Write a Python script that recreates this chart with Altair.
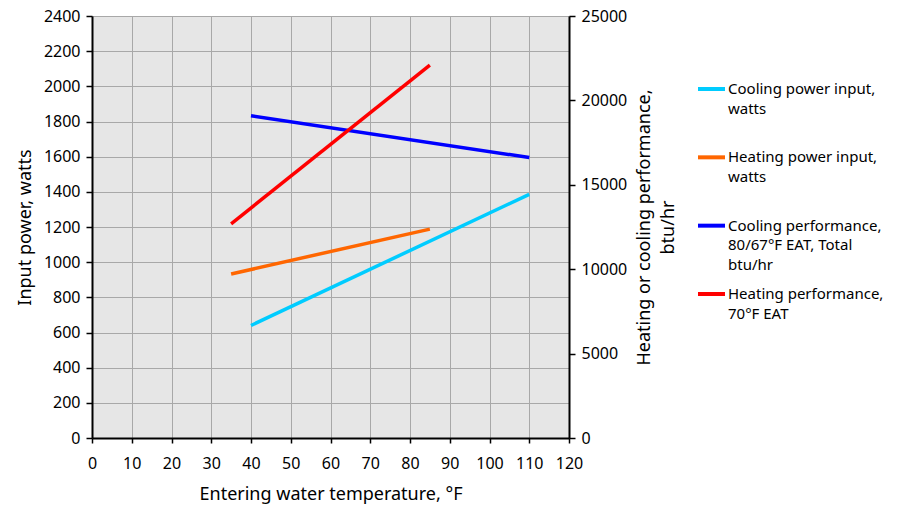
import altair as alt
import pandas as pd

series = ["Cooling power input, watts", "Heating power input, watts",
          "Cooling performance, 80/67°F EAT, Total btu/hr", "Heating performance, 70°F EAT"]
legend_text = ["Cooling power input,|watts",
               "Heating power input,|watts",
               "Cooling performance,|80/67°F EAT, Total|btu/hr",
               "Heating performance,|70°F EAT"]
legend_order = [0, 1, 2, 3]
colors = ["#00CCFF", "#FF6600", "#0000FF", "#FF0000"]

# Entering water temperature (°F)
cool_power_x = [40, 110]
cool_power_y = [640, 1386]       # watts
heat_power_x = [35, 85]
heat_power_y = [933, 1188]       # watts
cool_perf_x = [40, 110]
cool_perf_y = [19090, 16615]     # btu/hr
heat_perf_x = [35, 85]
heat_perf_y = [12690, 22095]     # btu/hr

x_ticks = list(range(0, 121, 10))
left_ticks = list(range(0, 2401, 200))
right_ticks = list(range(0, 25001, 5000))

power = pd.DataFrame({
    "series": [series[0]] * 2 + [series[1]] * 2,
    "x": cool_power_x + heat_power_x,
    "y": cool_power_y + heat_power_y,
})
perf = pd.DataFrame({
    "series": [series[2]] * 2 + [series[3]] * 2,
    "x": cool_perf_x + heat_perf_x,
    "y": cool_perf_y + heat_perf_y,
})
legend_df = pd.DataFrame({"series": series, "text": legend_text, "idx": legend_order})

FONT = "Noto Sans"
FS = 16
TFS = 18
LFS = 15

color = alt.Color("series:N", scale=alt.Scale(domain=series, range=colors), legend=None)

axis_style = dict(labelFont=FONT, labelFontSize=FS, labelColor="black",
                  titleFont=FONT, titleFontSize=TFS, titleFontWeight="normal",
                  titleColor="black", format="d", labelOverlap=False, labelFlush=False)

x_enc = alt.X(
    "x:Q",
    scale=alt.Scale(domain=[0, 120], nice=False),
    axis=alt.Axis(values=x_ticks, title="Entering water temperature, °F",
                  grid=True, tickSize=5, labelPadding=12, titlePadding=14, **axis_style),
)

power_layer = alt.Chart(power).mark_line(strokeWidth=3.5).encode(
    x=x_enc,
    y=alt.Y("y:Q", scale=alt.Scale(domain=[0, 2400], nice=False),
            axis=alt.Axis(values=left_ticks, title="Input power, watts", orient="left",
                          grid=True, tickSize=6, labelPadding=6, titlePadding=9, **axis_style)),
    color=color,
    detail="series:N",
)

perf_layer = alt.Chart(perf).mark_line(strokeWidth=3.5).encode(
    x=x_enc,
    y=alt.Y("y:Q", scale=alt.Scale(domain=[0, 25000], nice=False),
            axis=alt.Axis(values=right_ticks, title=["Heating or cooling performance,", "btu/hr"],
                          orient="right", grid=False, tickSize=6, labelPadding=6,
                          titlePadding=3, titleAngle=270, titleLineHeight=24, **axis_style)),
    color=color,
    detail="series:N",
)

leg_y = alt.Y("idx:Q", scale=alt.Scale(domain=[0, 3], range=[73, 278]), axis=None)
legend_rules = alt.Chart(legend_df).mark_rule(strokeWidth=4).encode(
    x=alt.value(606), x2=alt.value(633), y=leg_y, color=color,
)
legend_labels = alt.Chart(legend_df).mark_text(
    align="left", baseline="top", dy=-7, lineBreak="|", lineHeight=19.5,
    font=FONT, fontSize=LFS, color="black",
).encode(x=alt.value(636), y=leg_y, text="text:N")
legend_layer = alt.layer(legend_rules, legend_labels)

chart = alt.layer(power_layer, perf_layer, legend_layer).resolve_scale(y="independent").properties(
    width=477, height=422,
    autosize=alt.AutoSizeParams(type="none"),
    padding={"left": 84, "top": 8, "right": 320, "bottom": 69},
).configure_view(
    fill="#E6E6E6", stroke=None,
).configure_axis(
    domainColor="black", domainWidth=2, tickColor="black", tickWidth=1.5,
    gridColor="#A8A8A8", gridWidth=1,
)

chart.save("out.html", embed_options={"renderer": "svg", "actions": False})
